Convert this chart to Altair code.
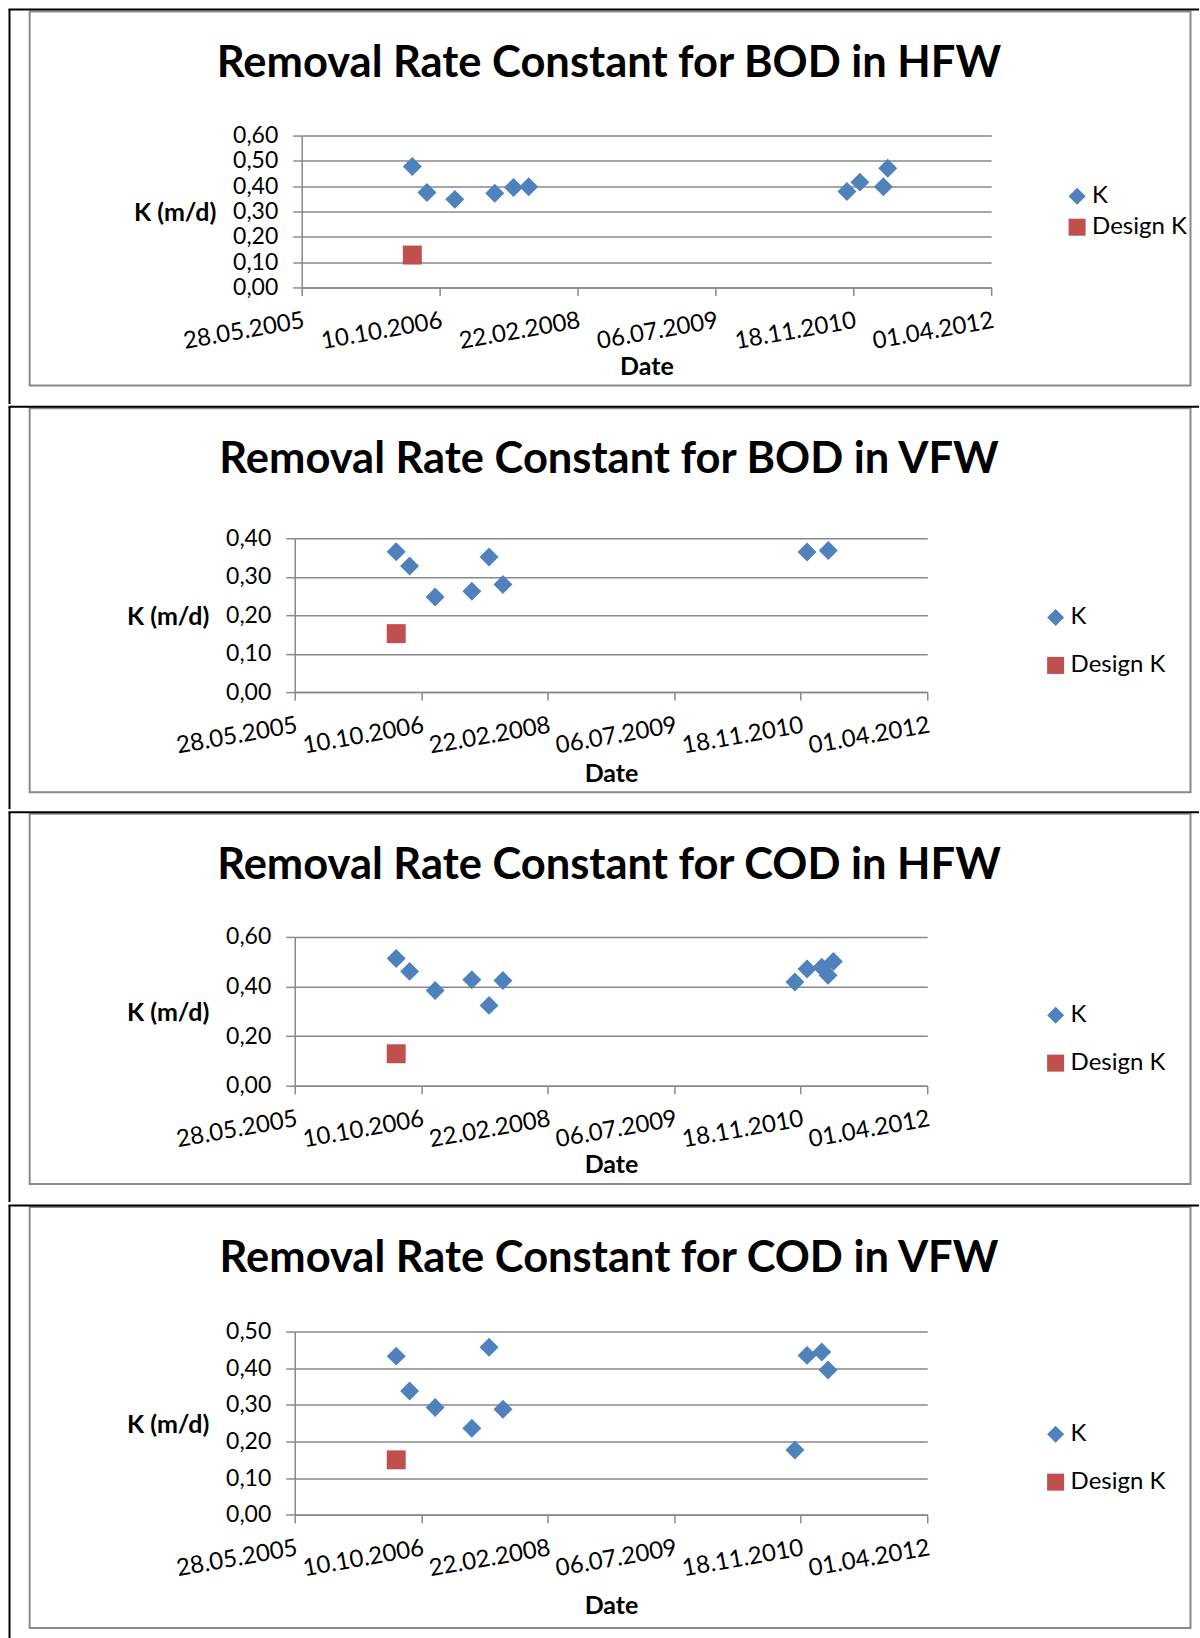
import altair as alt
import pandas as pd

# ---------------- data ----------------
TITLES = [
    "Removal Rate Constant for BOD in HFW",
    "Removal Rate Constant for BOD in VFW",
    "Removal Rate Constant for COD in HFW",
    "Removal Rate Constant for COD in VFW",
]

LEFT_DATES = ["2006-07-03", "2006-08-25", "2006-12-04", "2007-04-28", "2007-07-05", "2007-08-29"]

BOD_HFW_DATES = LEFT_DATES + ["2010-10-26", "2010-12-12", "2011-03-07", "2011-03-23"]
BOD_HFW_K = [0.478, 0.375, 0.348, 0.372, 0.395, 0.398, 0.379, 0.416, 0.398, 0.471]

BOD_VFW_DATES = LEFT_DATES + ["2010-12-13", "2011-03-07"]
BOD_VFW_K = [0.365, 0.328, 0.247, 0.262, 0.351, 0.280, 0.364, 0.368]

COD_HFW_DATES = LEFT_DATES + ["2010-10-26", "2010-12-13", "2011-02-09", "2011-03-06", "2011-03-27"]
COD_HFW_K = [0.513, 0.461, 0.384, 0.427, 0.324, 0.424, 0.418, 0.471, 0.478, 0.445, 0.501]

COD_VFW_DATES = LEFT_DATES + ["2010-10-26", "2010-12-13", "2011-02-09", "2011-03-06"]
COD_VFW_K = [0.433, 0.338, 0.293, 0.236, 0.457, 0.288, 0.177, 0.435, 0.444, 0.395]

DESIGN_DATE = "2006-07-03"
DESIGN_K = [0.128, 0.152, 0.129, 0.150]

Y_MAX = [0.6, 0.4, 0.6, 0.5]
Y_STEP = [0.1, 0.1, 0.2, 0.1]

TICK_DATES = [(2005, 5, 28), (2006, 10, 10), (2008, 2, 22), (2009, 7, 6), (2010, 11, 18), (2012, 4, 1)]

SERIES = ["K", "Design K"]
COLORS = ["#4F81BD", "#C0504D"]
SHAPES = ["diamond", "square"]

DATES = [BOD_HFW_DATES, BOD_VFW_DATES, COD_HFW_DATES, COD_VFW_DATES]
KVALS = [BOD_HFW_K, BOD_VFW_K, COD_HFW_K, COD_VFW_K]

# ---------------- layout (absolute page pixels) ----------------
OX = 293  # common origin of every panel's view
LAYOUT = [
    dict(x0=300, x1=990, oy=134.3, h=152, top=8.2, nxt=405, ft=10.2, fb=384.5, sx=1077.5, ly=48.7, rp=7, dy=87),
    dict(x0=293, x1=926, oy=536.7, h=154, top=405, nxt=810, ft=406.5, fb=791, sx=1056, ly=67.3, rp=24, dy=89),
    dict(x0=293, x1=926, oy=934.7, h=149, top=810, nxt=1202, ft=811.5, fb=1182, sx=1056, ly=66.3, rp=24, dy=86.5),
    dict(x0=293, x1=926, oy=1328.3, h=183.4, top=1202, nxt=1638, ft=1203.5, fb=1625, sx=1056, ly=90.7, rp=24, dy=98.5),
]

FONT = "Lato"
GRAY = "#898989"
FRAME_L, FRAME_R = 27.7, 1189.5
BLACK_X = 7.5
TITLE_CX = 607.5


def dt(t):
    return alt.DateTime(year=t[0], month=t[1], date=t[2], utc=True)


def make_panel(i):
    L = LAYOUT[i]
    oy, h = L["oy"], L["h"]
    r0, r1 = L["x0"] - OX, L["x1"] - OX
    n = len(KVALS[i])
    df = pd.DataFrame({
        "date": DATES[i] + [DESIGN_DATE],
        "k": KVALS[i] + [DESIGN_K[i]],
        "series": ["K"] * n + ["Design K"],
    })
    ymax, ystep = Y_MAX[i], Y_STEP[i]
    yvals = [round(j * ystep, 2) for j in range(int(round(ymax / ystep)) + 1)]

    legend = alt.Legend(
        title=None, orient="none", legendX=L["sx"] - 13.5 - OX, legendY=L["ly"],
        labelFont=FONT, labelFontSize=24, labelColor="black",
        symbolSize=290, symbolStrokeWidth=0, symbolOpacity=1,
        rowPadding=L["rp"], labelOffset=3, padding=0,
    )

    x = alt.X(
        "date:T",
        scale=alt.Scale(type="utc", domain=[dt(TICK_DATES[0]), dt(TICK_DATES[-1])],
                        nice=False, range=[r0, r1]),
        axis=alt.Axis(
            values=[dt(t) for t in TICK_DATES],
            labelExpr="utcFormat(datum.value, '%d.%m.%Y')",
            labelAngle=-10, labelAlign="right", labelBaseline="top",
            labelFontSize=24,
            labelPadding=13, labelFlush=False, labelOverlap=False,
            tickSize=8, grid=False,
            title="Date", titleFont=FONT, titleFontSize=25, titleFontWeight="bold",
            titleBaseline="alphabetic", titleY=L["dy"], titleX=(r0 + r1) / 2,
            titleColor="black",
        ),
    )
    y = alt.Y(
        "k:Q",
        scale=alt.Scale(domain=[0, ymax], nice=False, zero=True),
        axis=alt.Axis(
            values=yvals, offset=-r0,
            labelExpr="replace(format(datum.value, '.2f'), '.', ',')",
            tickSize=9, labelPadding=15, grid=True,
            title="K (m/d)", titleAngle=0, titleAlign="right", titleBaseline="middle",
            titleX=-86, titleY=h / 2 + 1, titleFont=FONT, titleFontSize=25,
            titleFontWeight="bold", titleColor="black",
        ),
    )

    points = alt.Chart(df).mark_point(filled=True, opacity=1, size=360, strokeWidth=0).encode(
        x=x, y=y,
        color=alt.Color("series:N", scale=alt.Scale(domain=SERIES, range=COLORS), legend=legend),
        shape=alt.Shape("series:N", scale=alt.Scale(domain=SERIES, range=SHAPES), legend=legend),
    )

    one = pd.DataFrame({"t": [TITLES[i]]})
    frame = alt.Chart(one).mark_rect(fillOpacity=0, stroke=GRAY, strokeWidth=2).encode(
        x=alt.value(FRAME_L - OX), x2=alt.value(FRAME_R - OX),
        y=alt.value(L["ft"] - oy), y2=alt.value(L["fb"] - oy),
    )
    hline = alt.Chart(one).mark_rule(color="black", strokeWidth=2).encode(
        x=alt.value(BLACK_X - 1 - OX), x2=alt.value(1198 - OX),
        y=alt.value(L["top"] - oy),
    )
    bottom = L["nxt"] - 2 if i < 3 else 1635
    vline = alt.Chart(one).mark_rule(color="black", strokeWidth=2).encode(
        x=alt.value(BLACK_X - OX),
        y=alt.value(L["top"] - oy), y2=alt.value(bottom - oy),
    )
    title = alt.Chart(one).mark_text(
        font=FONT, fontSize=43.5, fontWeight="bold", color="black",
        align="center", baseline="alphabetic",
    ).encode(
        text="t:N",
        x=alt.value(TITLE_CX - OX), y=alt.value(L["ft"] + 65 - oy),
    )
    return alt.layer(frame, hline, vline, title, points).properties(width=r1, height=h)


chart = alt.concat(
    *[make_panel(i) for i in range(4)], columns=1, spacing=0, bounds="full"
).resolve_scale(
    color="independent", shape="independent"
).resolve_legend(
    color="independent", shape="independent"
).properties(
    padding={"left": 7, "top": 7, "right": 0, "bottom": 0},
    background="white",
).configure_view(stroke=None).configure_axis(
    labelFont=FONT, labelFontSize=23, labelColor="black",
    domainColor=GRAY, domainWidth=1.5, tickColor=GRAY, tickWidth=1.5,
    gridColor=GRAY, gridWidth=1.5, gridOpacity=1,
)

chart.save("out.html", embed_options={"renderer": "svg", "actions": False})
